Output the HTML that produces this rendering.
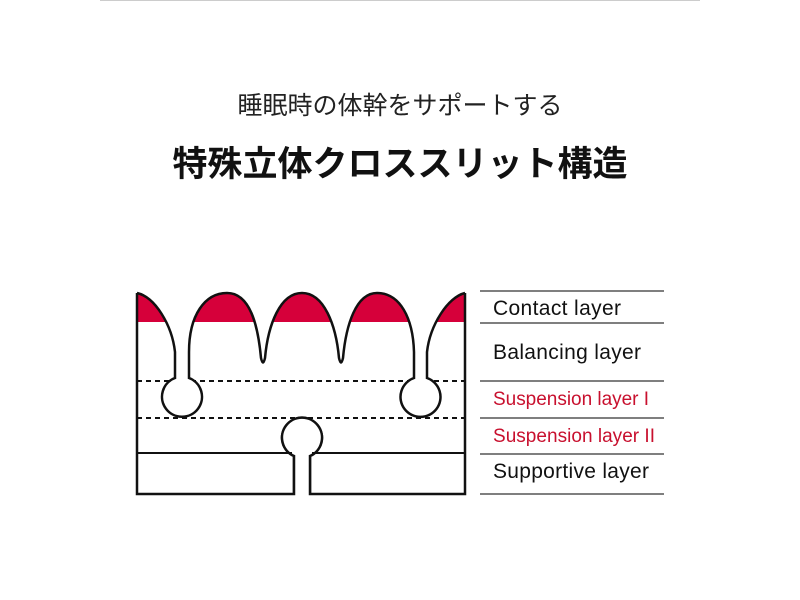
<!DOCTYPE html>
<html><head><meta charset="utf-8"><style>
html,body{margin:0;padding:0;background:#fff;}
body{width:800px;height:600px;position:relative;overflow:hidden;font-family:"Liberation Sans","Noto Sans CJK JP",sans-serif;}
.t1{position:absolute;top:90px;left:0;width:800px;text-align:center;font-size:25px;line-height:32px;color:#222;}
.t2{position:absolute;top:144px;left:0;width:800px;text-align:center;font-size:35px;line-height:42px;font-weight:bold;color:#111;}
</style></head><body>
<div style="position:absolute;left:100px;top:0;width:600px;height:1px;background:#ccc"></div>
<div class="t1">睡眠時の体幹をサポートする</div>
<div class="t2">特殊立体クロススリット構造</div>
<svg width="800" height="600" style="position:absolute;left:0;top:0">
<rect x="137" y="293" width="328" height="29" fill="#d6003a"/>
<g stroke="#111" stroke-width="2" stroke-dasharray="5,4">
<line x1="137" y1="381" x2="465" y2="381"/>
<line x1="137" y1="418" x2="465" y2="418"/>
</g>
<path d="M137,293 C155,297 172,325 175,352 L175,378 A20,20 0 1 0 189,378 L189,352 C189,315 205,293 227,293 C250,293 258,325 261,358 Q263,367 265,358 C268,325 280,293 302,293 C324,293 336,325 339,358 Q341,367 343,358 C346,325 356,293 377,293 C400,293 413,318 414,352 L414,378 A20,20 0 1 0 427,378 L427,352 C430,325 448,297 465,293 L465,280 L137,280 Z" fill="#fff" stroke="none"/>
<path d="M137,293 C155,297 172,325 175,352 L175,378 A20,20 0 1 0 189,378 L189,352 C189,315 205,293 227,293 C250,293 258,325 261,358 Q263,367 265,358 C268,325 280,293 302,293 C324,293 336,325 339,358 Q341,367 343,358 C346,325 356,293 377,293 C400,293 413,318 414,352 L414,378 A20,20 0 1 0 427,378 L427,352 C430,325 448,297 465,293" fill="none" stroke="#111" stroke-width="2.5"/>
<path d="M137,293 L137,494 L294,494 L294,456 A20,20 0 1 1 310,456 L310,494 L465,494 L465,293" fill="none" stroke="#111" stroke-width="2.5"/>
<path d="M294,494 L294,456 A20,20 0 1 1 310,456 L310,494 Z" fill="#fff" stroke="none"/>
<path d="M294,494 L294,456 A20,20 0 1 1 310,456 L310,494" fill="none" stroke="#111" stroke-width="2.5"/>
<line x1="137" y1="453" x2="292" y2="453" stroke="#111" stroke-width="2"/>
<line x1="312" y1="453" x2="465" y2="453" stroke="#111" stroke-width="2"/>
<g stroke="#333" stroke-width="1.3">
<line x1="480" y1="291" x2="664" y2="291"/>
<line x1="480" y1="323" x2="664" y2="323"/>
<line x1="480" y1="381" x2="664" y2="381"/>
<line x1="480" y1="418" x2="664" y2="418"/>
<line x1="480" y1="454" x2="664" y2="454"/>
<line x1="480" y1="494" x2="664" y2="494"/>
</g>
<g font-family="Liberation Sans, sans-serif" font-size="21">
<text x="493" y="315" fill="#111" textLength="128">Contact layer</text>
<text x="493" y="359" fill="#111" textLength="148">Balancing layer</text>
<text x="493" y="405" fill="#c8102e" font-size="19" textLength="156">Suspension layer I</text>
<text x="493" y="442" fill="#c8102e" font-size="19" textLength="162">Suspension layer II</text>
<text x="493" y="478" fill="#111" textLength="156">Supportive layer</text>
</g>
</svg>
</body></html>
